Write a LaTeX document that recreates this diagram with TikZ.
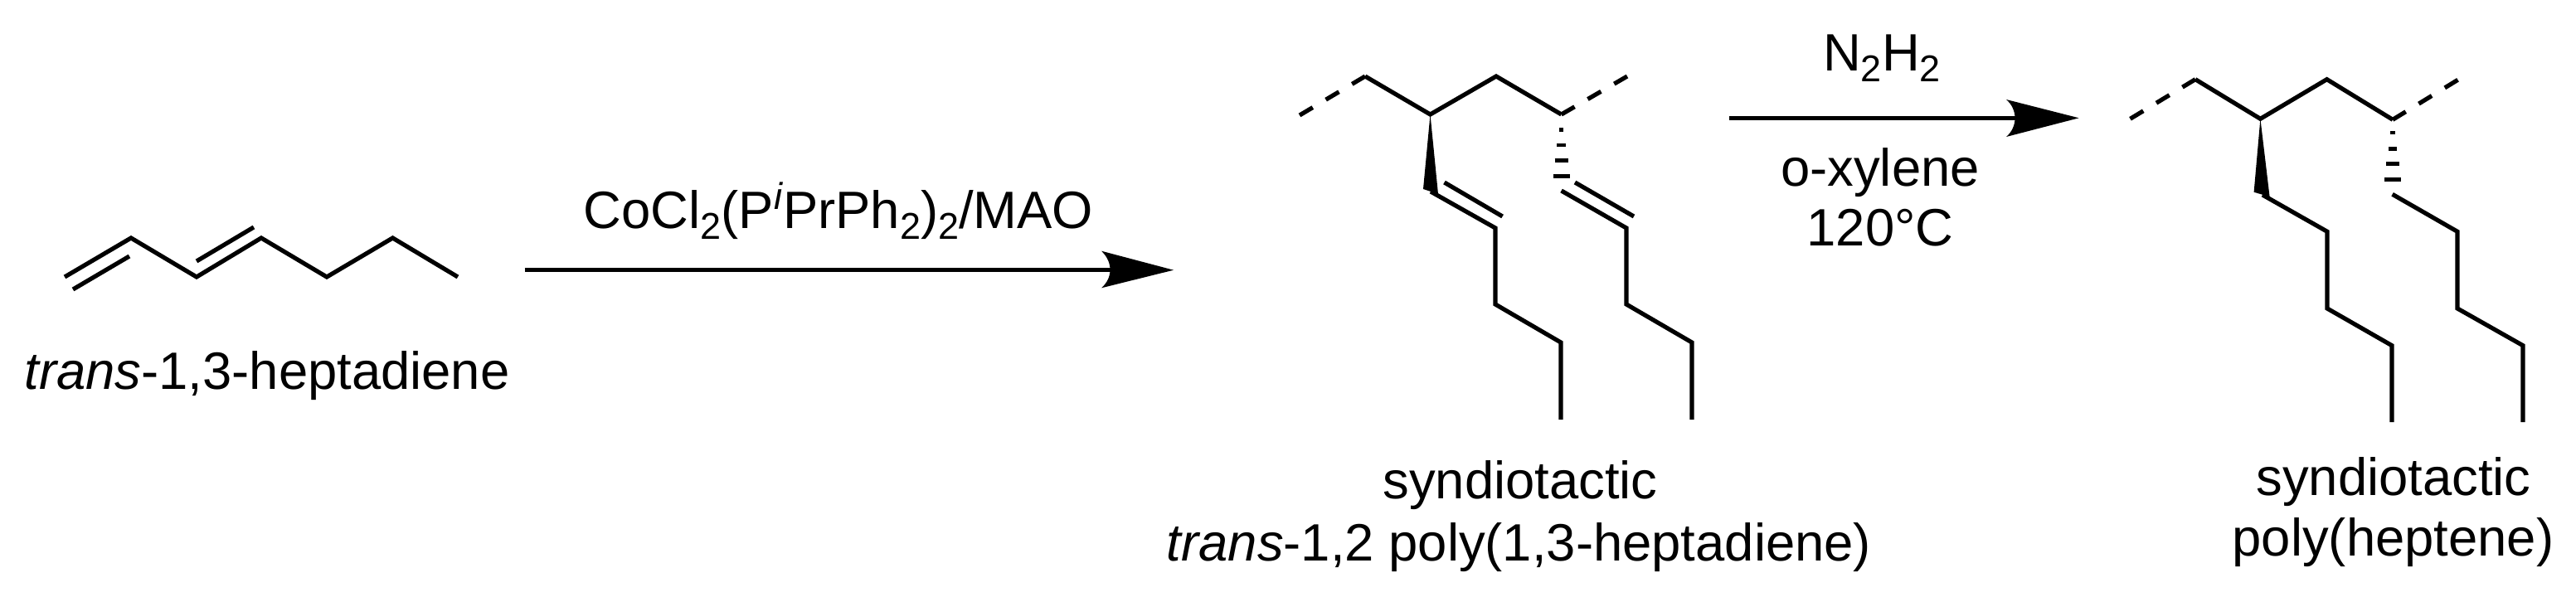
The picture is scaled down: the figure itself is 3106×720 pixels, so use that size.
\documentclass[tikz,border=0pt]{standalone}
\usepackage{fontspec}
\setmainfont{Liberation Sans}
\tikzset{
  bond/.style={line width=5.2pt,line join=miter,line cap=butt},
  dashbond/.style={line width=5.2pt,dash pattern=on 18.4pt off 18.4pt},
  hashbar/.style={line width=4.7pt},
  rxn/.style={line width=5pt},
  lbl/.style={anchor=base,inner sep=0pt,font=\fontsize{63.4pt}{76pt}\selectfont},
}
\newcommand{\lowtwo}{\raisebox{-13pt}{\fontsize{45pt}{45pt}\selectfont 2}}
\newcommand{\hii}{\raisebox{23pt}{\fontsize{45pt}{45pt}\selectfont\textit{i}}}
\begin{document}
\begin{tikzpicture}[x=1pt,y=-1pt]
\useasboundingbox (0,0) rectangle (3106,720);
% monomer
\foreach \n/\x/\y in {a1/78/334,a2/158/287,a3/237/334,a4/315/287,a5/394/334,a6/473.5/287,a7/552/334,
 b1/88/349,b2/156/309,b3/237/315,b4/306/274}
 \coordinate (\n) at (\x,\y);
\draw[bond] (a1)--(a2)--(a3)--(a4)--(a5)--(a6)--(a7);
\draw[bond] (b1)--(b2);
\draw[bond] (b3)--(b4);
\node[lbl] (t1) at (322,469) {\textit{trans}-1,3-heptadiene};
% arrow 1
\coordinate (r1s) at (632.5,325.7);
\coordinate (r1e) at (1345,325.7);
\coordinate (r1t) at (1415,325.7);
\coordinate (r1u) at (1328,302.7);
\coordinate (r1d) at (1328,347.3);
\draw[rxn] (r1s)--(r1e);
\fill (r1t) -- (r1d) .. controls (1342,335) and (1342,316) .. (r1u) -- cycle;
\node[lbl] (t2) at (1011,275) {CoCl\lowtwo(P\hii PrPh\lowtwo)\lowtwo/MAO};
% polymer 1
\foreach \n/\x/\y in {c0/1567/139,c1/1646/92,c2/1724.5/138,c3/1804/92,c4/1882.6/138,c5/1962/92,
 w1/1716/228,w2/1734/234,
 d1/1725/231,d2/1803/275,d3/1803/367,d4/1882/413,d5/1882/506,d6/1741.5/220,d7/1811.6/261,
 e1/1882.6/230,e2/1961/275,e3/1961/367,e4/2040/413,e5/2040/506,e6/1899/220,e7/1970/261}
 \coordinate (\n) at (\x,\y);
\draw[dashbond] (c0)--(c1);
\draw[bond] (c1)--(c2)--(c3)--(c4);
\draw[dashbond] (c4)--(c5);
\fill (c2)--(w1)--(w2)--cycle;
\draw[bond] (d1)--(d2)--(d3)--(d4)--(d5);
\draw[bond] (d6)--(d7);
\draw[bond] (e1)--(e2)--(e3)--(e4)--(e5);
\draw[bond] (e6)--(e7);
\foreach \y/\w in {156.3/2.7,175/5.4,193.7/8,212.7/10}
  \draw[hashbar] (1882.6-\w,\y)--(1882.6+\w,\y);
\node[lbl] (t3) at (1833,601.7) {syndiotactic};
\node[lbl] (t4) at (1831.5,676) {\textit{trans}-1,2 poly(1,3-heptadiene)};
% arrow 2
\coordinate (r2s) at (2085,142.3);
\coordinate (r2e) at (2436,142.3);
\coordinate (r2t) at (2506.6,142.3);
\coordinate (r2u) at (2419,120);
\coordinate (r2d) at (2419,165);
\draw[rxn] (r2s)--(r2e);
\fill (r2t) -- (r2d) .. controls (2433,153) and (2433,132) .. (r2u) -- cycle;
\node[lbl] (t5) at (2269,85.7) {N\lowtwo H\lowtwo};
\node[lbl] (t6) at (2267,224) {o-xylene};
\node[lbl] (t7) at (2267,296.7) {120°C};
% polymer 2
\foreach \n/\x/\y in {f0/2568.5/143.3,f1/2647/95.7,f2/2725.4/143.3,f3/2805.6/95.7,f4/2885/144.3,f5/2964/96,
 v1/2717.6/231.7,v2/2736.6/237.3,
 g1/2728/235,g2/2806/279.3,g3/2806/372,g4/2884/416.7,g5/2884/509,
 h1/2884.6/234.3,h2/2963/279.3,h3/2963/372,h4/3042/416.7,h5/3042/509}
 \coordinate (\n) at (\x,\y);
\draw[dashbond] (f0)--(f1);
\draw[bond] (f1)--(f2)--(f3)--(f4);
\draw[dashbond] (f4)--(f5);
\fill (f2)--(v1)--(v2)--cycle;
\draw[bond] (g1)--(g2)--(g3)--(g4)--(g5);
\draw[bond] (h1)--(h2)--(h3)--(h4)--(h5);
\foreach \y/\w in {160/3,179.3/5,197.7/8,216.7/10}
  \draw[hashbar] (2885-\w,\y)--(2885+\w,\y);
\node[lbl] (t8) at (2886,597) {syndiotactic};
\node[lbl] (t9) at (2885.5,670.7) {poly(heptene)};
\end{tikzpicture}
\end{document}
